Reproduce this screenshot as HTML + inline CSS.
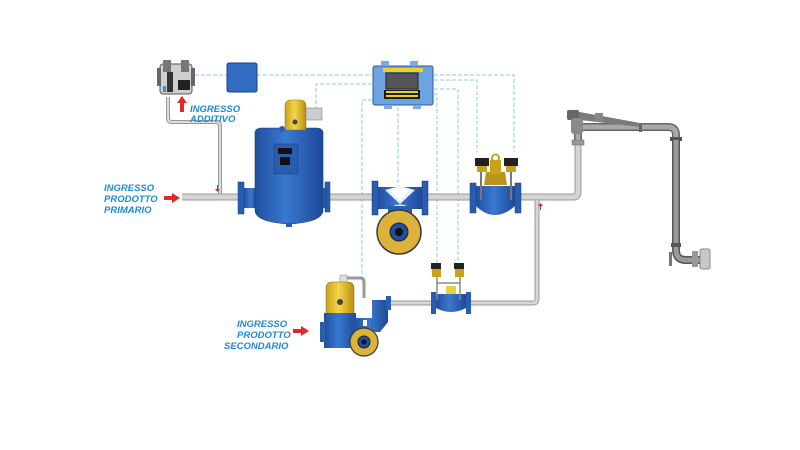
<!DOCTYPE html>
<html><head><meta charset="utf-8"><style>
html,body{margin:0;padding:0;background:#fff;}
svg{display:block;}
text{font-family:"Liberation Sans",sans-serif;font-weight:bold;font-style:italic;font-size:9.5px;fill:#1e8ad2;}
</style></head><body>
<svg width="800" height="450" viewBox="0 0 800 450" xmlns="http://www.w3.org/2000/svg">
<defs>
<linearGradient id="bl" x1="0" x2="1"><stop offset="0" stop-color="#1f4fa0"/><stop offset="0.45" stop-color="#3a78d0"/><stop offset="1" stop-color="#1d4a98"/></linearGradient>
<linearGradient id="ye" x1="0" x2="1"><stop offset="0" stop-color="#c9a21a"/><stop offset="0.45" stop-color="#f5d54a"/><stop offset="1" stop-color="#b88f12"/></linearGradient>
</defs>

<!-- dashed signal lines -->
<g fill="none" stroke="#8ccbe9" stroke-width="1" stroke-dasharray="4,2">
<path d="M195 75 H227 M257 75 H372"/>
<path d="M372 84 H316 V110"/>
<path d="M372 100 H362 V283"/>
<path d="M398 107 V212"/>
<path d="M434 75 H514 V152"/>
<path d="M434 80 H477 V152"/>
<path d="M434 89 H458 V266"/>
<path d="M434 94 H437 V266"/>
</g>

<!-- pipes -->
<g fill="none" stroke-linejoin="round" stroke-linecap="butt">
<path d="M168 97 V118 Q168 122 172 122 H216 Q220 122 220 126 V196" stroke="#999" stroke-width="4"/>
<path d="M168 97 V118 Q168 122 172 122 H216 Q220 122 220 126 V196" stroke="#ddd" stroke-width="2"/>
<path d="M182 197 H574 Q578 197 578 192 V145" stroke="#999" stroke-width="7"/>
<path d="M182 197 H574 Q578 197 578 192 V145" stroke="#d4d4d4" stroke-width="5"/>
<path d="M537 200 V299 Q537 303 533 303 H388" stroke="#999" stroke-width="5"/>
<path d="M537 200 V299 Q537 303 533 303 H388" stroke="#d6d6d6" stroke-width="3"/>
<path d="M344 285 V278 H360 Q364 278 364 282 V298" stroke="#999" stroke-width="3"/>
</g>
<!-- loading arm -->
<g>
<rect x="572" y="140" width="12" height="5" fill="#999" stroke="#666" stroke-width=".5"/>
<path d="M578 140 V134 Q578 127 585 127 H668 Q676 127 676 135 V140" fill="none" stroke="#666" stroke-width="8"/>
<path d="M578 140 V134 Q578 127 585 127 H668 Q676 127 676 135 V140" fill="none" stroke="#a8a8a8" stroke-width="5"/>
<path d="M574 111 L640 123 L640 127 L580 120 Z" fill="#7a7a7a"/>
<rect x="595" y="113" width="8" height="8" fill="#888"/>
<rect x="567" y="110" width="12" height="10" rx="2" fill="#666"/>
<rect x="571" y="118" width="12" height="16" rx="3" fill="#8a8a8a"/>
<rect x="639" y="124" width="3" height="8" fill="#666"/>
<rect x="670" y="137" width="12" height="4" fill="#555"/>
<path d="M676 140 V250 Q676 260 686 260 H700" fill="none" stroke="#555" stroke-width="8"/>
<path d="M676 140 V250 Q676 260 686 260 H700" fill="none" stroke="#9a9a9a" stroke-width="5"/>
<rect x="671" y="243" width="10" height="4" fill="#555"/>
<rect x="669" y="252" width="3" height="14" fill="#777"/>
<rect x="692" y="251" width="6" height="16" fill="#999"/>
<rect x="700" y="249" width="10" height="20" rx="2" fill="#c8c8c8" stroke="#888"/>
</g>

<!-- additive device -->
<g>
<rect x="160" y="64" width="32" height="30" rx="3" fill="#cfcfcf" stroke="#555"/>
<rect x="163" y="60" width="8" height="12" fill="#777"/>
<rect x="181" y="60" width="8" height="12" fill="#777"/>
<rect x="167" y="72" width="6" height="20" fill="#333"/>
<rect x="178" y="80" width="12" height="10" fill="#222"/>
<rect x="157" y="68" width="4" height="18" fill="#666"/>
<rect x="191" y="68" width="4" height="18" fill="#666"/>
<rect x="163" y="86" width="3" height="6" fill="#3a8ae0"/>
</g>
<!-- red arrows -->
<g fill="#e02a2a">
<path d="M180 112 V103 H177 L182 96 L187 103 H184 V112 Z"/>
<path d="M164 196 H172 V193 L180 198 L172 203 V200 H164 Z"/>
<path d="M293 329 H301 V326 L309 331 L301 336 V333 H293 Z"/>
<path d="M217 185 V189 H215 L217.5 192 L220 189 H218 V185 Z" />
<path d="M540 210 V206 H538 L540.5 203 L543 206 H541 V210 Z"/>
</g>
<text x="190" y="112">INGRESSO</text>
<text x="190" y="122">ADDITIVO</text>
<text x="104" y="191">INGRESSO</text>
<text x="104" y="202">PRODOTTO</text>
<text x="104" y="213">PRIMARIO</text>
<text x="237" y="327">INGRESSO</text>
<text x="237" y="338">PRODOTTO</text>
<text x="224" y="349">SECONDARIO</text>

<!-- blue junction box -->
<rect x="227" y="63" width="30" height="29" rx="2" fill="#2f6cc2" stroke="#1b3f7a"/>

<!-- controller -->
<g>
<rect x="373" y="66" width="60" height="39" rx="2" fill="#6ea3e2" stroke="#2c5a98"/>
<rect x="381" y="61" width="8" height="5" fill="#7aaae6"/>
<rect x="410" y="61" width="8" height="5" fill="#7aaae6"/>
<rect x="384" y="105" width="8" height="4" fill="#7aaae6"/>
<rect x="413" y="105" width="8" height="4" fill="#7aaae6"/>
<rect x="383" y="68" width="40" height="4" fill="#f0d020"/>
<rect x="386" y="73" width="32" height="16" fill="#555" stroke="#222"/>
<rect x="384" y="90" width="36" height="9" fill="#1a1a1a"/>
<g fill="#f0d020"><rect x="386" y="91" width="32" height="2"/><rect x="386" y="95" width="32" height="2"/></g>
</g>

<!-- strainer / air eliminator -->
<g>
<rect x="238" y="182" width="6" height="32" fill="#2a5cb0" stroke="#1a3a7a" stroke-width=".5"/>
<rect x="244" y="188" width="14" height="20" fill="url(#bl)"/>
<rect x="325" y="182" width="5" height="30" fill="#2a5cb0" stroke="#1a3a7a" stroke-width=".5"/>
<rect x="315" y="188" width="12" height="20" fill="url(#bl)"/>
<path d="M255 133 Q255 128 262 128 H316 Q323 128 323 133 V210 Q323 222 289 224 Q255 222 255 210 Z" fill="url(#bl)" stroke="#1a3f80" stroke-width=".6"/>
<rect x="274" y="144" width="24" height="30" fill="#2a5cb0" stroke="#1d4486" stroke-width=".6"/>
<rect x="278" y="148" width="14" height="6" fill="#111"/>
<rect x="280" y="157" width="10" height="8" fill="#111"/>
<rect x="286" y="223" width="6" height="4" fill="#2a5cb0"/>
<path d="M285 106 Q285 100 291 100 H300 Q306 100 306 106 V130 H285 Z" fill="url(#ye)" stroke="#8a6a10" stroke-width=".5"/>
<rect x="306" y="108" width="16" height="12" fill="#ccc" stroke="#777" stroke-width=".5"/>
<circle cx="295" cy="122" r="2.5" fill="#444"/>
<circle cx="282" cy="129" r="3" fill="#2a5cb0"/>
</g>

<!-- meter -->
<g>
<rect x="372" y="181" width="6" height="34" fill="#2a5cb0" stroke="#1a3a7a" stroke-width=".5"/>
<rect x="422" y="181" width="6" height="34" fill="#2a5cb0" stroke="#1a3a7a" stroke-width=".5"/>
<path d="M378 187 H422 V209 H412 Q400 200 388 209 H378 Z" fill="url(#bl)"/>
<path d="M385 190 L400 186 L415 190 L400 204 Z" fill="#fff" opacity=".9"/>
<path d="M390 190 L400 188 L410 190 L400 200 Z" fill="#fff"/>
<rect x="388" y="206" width="24" height="8" fill="#2a5cb0"/>
<circle cx="399" cy="232" r="22" fill="#dcb23a" stroke="#3a3a3a" stroke-width="1.5"/>
<circle cx="399" cy="232" r="9" fill="#1f4fa0" stroke="#222"/>
<circle cx="399" cy="232" r="4" fill="#111"/>
</g>

<!-- main control valve -->
<g>
<rect x="470" y="183" width="6" height="30" fill="#2a5cb0" stroke="#1a3a7a" stroke-width=".5"/>
<rect x="515" y="183" width="6" height="30" fill="#2a5cb0" stroke="#1a3a7a" stroke-width=".5"/>
<path d="M476 186 H515 V206 Q505 215 495 215 Q485 215 476 206 Z" fill="url(#bl)"/>
<path d="M484 185 L486 172 H505 L507 185 Z" fill="#b8961e"/>
<rect x="490" y="160" width="11" height="14" fill="#c9a21a"/>
<circle cx="495.5" cy="158" r="3.5" fill="none" stroke="#c9a21a" stroke-width="2"/>
<rect x="475" y="158" width="14" height="8" fill="#222"/>
<rect x="504" y="158" width="14" height="8" fill="#222"/>
<rect x="477" y="166" width="10" height="6" fill="#c9a21a"/>
<rect x="506" y="166" width="10" height="6" fill="#c9a21a"/>
<rect x="480" y="172" width="2" height="28" fill="#777"/>
<rect x="510" y="172" width="2" height="28" fill="#777"/>
</g>

<!-- small secondary valve -->
<g>
<rect x="431" y="292" width="5" height="22" fill="#2a5cb0"/>
<rect x="466" y="292" width="5" height="22" fill="#2a5cb0"/>
<path d="M436 294 H466 V308 Q451 316 436 308 Z" fill="url(#bl)"/>
<rect x="446" y="286" width="10" height="8" fill="#e8d040"/>
<rect x="431" y="263" width="10" height="6" fill="#222"/>
<rect x="454" y="263" width="10" height="6" fill="#222"/>
<rect x="432" y="269" width="9" height="8" fill="#c9a21a"/>
<rect x="455" y="269" width="9" height="8" fill="#c9a21a"/>
<path d="M437 277 V300 M460 277 V300 M437 283 H460" stroke="#888" stroke-width="1.5" fill="none"/>
</g>

<!-- secondary assembly -->
<g>
<rect x="340" y="275" width="7" height="8" fill="#ddd" stroke="#888" stroke-width=".5"/>
<path d="M326 288 Q326 282 332 282 H348 Q354 282 354 288 V315 H326 Z" fill="url(#ye)" stroke="#8a6a10" stroke-width=".5"/>
<circle cx="340" cy="302" r="3" fill="#444"/>
<rect x="324" y="313" width="32" height="35" fill="url(#bl)"/>
<rect x="320" y="322" width="5" height="20" fill="#2a5cb0"/>
<path d="M354 318 H372 V300 H388 V322 L380 332 H354 Z" fill="url(#bl)"/>
<rect x="386" y="296" width="5" height="14" fill="#2a5cb0"/>
<rect x="363" y="320" width="4" height="6" fill="#fff"/>
<circle cx="364" cy="342" r="14" fill="#dcb23a" stroke="#3a3a3a" stroke-width="1.2"/>
<circle cx="364" cy="342" r="6" fill="#1f4fa0" stroke="#222"/>
<circle cx="364" cy="342" r="2.5" fill="#111"/>
</g>
</svg>
</body></html>
